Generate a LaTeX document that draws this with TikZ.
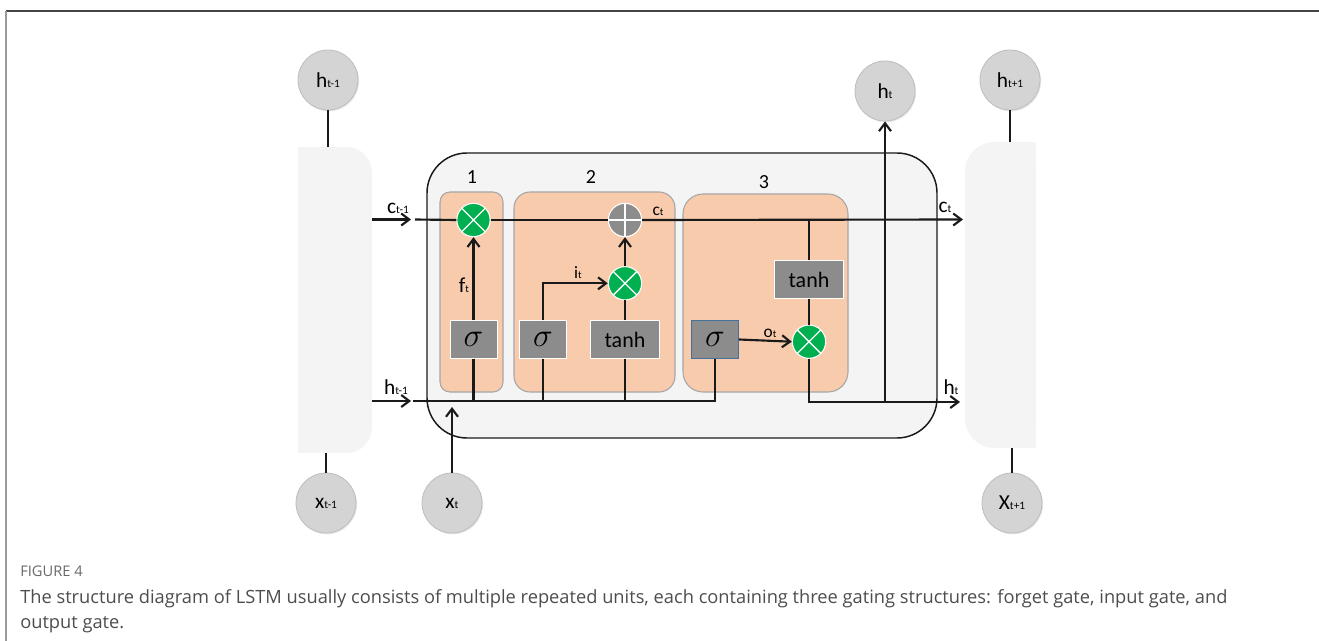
\documentclass[tikz,border=0pt]{standalone}
\usepackage{fontspec}
\setmainfont{Carlito}
\newfontfamily\capfont{Open Sans}
\usetikzlibrary{arrows.meta,calc,shadows}
\definecolor{cellfill}{HTML}{F4F4F4}
\definecolor{gatefill}{HTML}{F8CBAD}
\definecolor{gateline}{HTML}{A6A6A6}
\definecolor{boxfill}{HTML}{8C8C8C}
\definecolor{opgreen}{HTML}{00B050}
\definecolor{circfill}{HTML}{D4D4D4}
\definecolor{circline}{HTML}{BDBDBD}
\definecolor{sigblue}{HTML}{41719C}
\definecolor{captext}{HTML}{4D4D4D}
\definecolor{linecol}{HTML}{1A1A1A}
\definecolor{frametop}{HTML}{444444}
\definecolor{frameleft}{HTML}{9A9A9A}
\newcommand\sbs[2]{#1{\fontsize{8.5}{8.5}\selectfont #2}}
\newcommand\sbsm[2]{#1{\fontsize{8}{8}\selectfont #2}}
\tikzset{
  state/.style={circle, fill=circfill, draw=circline, line width=0.6pt, minimum size=45pt, inner sep=0pt, font=\fontsize{16}{16}\selectfont,
    drop shadow={opacity=0.18, shadow xshift=0.8pt, shadow yshift=-1pt}},
  mult/.style={circle, fill=opgreen, draw=white, line width=0.8pt, minimum size=25pt, inner sep=0pt,
    path picture={\draw[white,line width=1pt] (path picture bounding box.north west) -- (path picture bounding box.south east) (path picture bounding box.north east) -- (path picture bounding box.south west);}},
  addop/.style={circle, fill=boxfill, draw=white, line width=0.8pt, minimum size=25pt, inner sep=0pt,
    path picture={\draw[white,line width=1pt] (path picture bounding box.north) -- (path picture bounding box.south) (path picture bounding box.east) -- (path picture bounding box.west);}},
  actbox/.style={rectangle, fill=boxfill, draw=white, line width=0.6pt, minimum height=28.5pt, inner sep=0pt},
  sigbox/.style={actbox, minimum width=35.25pt, font=\fontsize{31}{31}\selectfont},
  tanhbox/.style={actbox, minimum width=51.5pt, font=\fontsize{16.5}{16.5}\selectfont},
  gatebox/.style={rectangle, fill=gatefill, draw=gateline, line width=0.8pt, inner sep=0pt},
  conn/.style={draw=linecol, line width=1.6pt},
  arr/.style={conn, -{Straight Barb[length=6pt,width=9pt]}},
  lbl/.style={inner sep=0pt, font=\fontsize{16}{16}\selectfont},
  slbl/.style={inner sep=0pt, font=\fontsize{13}{13}\selectfont},
  numlbl/.style={inner sep=0pt, font=\fontsize{15}{15}\selectfont},
}
\begin{document}
\begin{tikzpicture}[x=0.75pt,y=-0.75pt]
\useasboundingbox (0,0) rectangle (1319,641);
% frame
\draw[frametop, line width=0.9pt] (6,11) -- (1319,11);
\draw[frameleft, line width=1.2pt] (6,11) -- (6,641);

% neighbour blocks
\fill[cellfill, rounded corners=19pt] (298,147) rectangle (372,453);
\fill[cellfill] (298,147) rectangle (330,453);
\node[inner sep=0pt, minimum width=55.5pt, minimum height=229.5pt] (lb) at (335,300) {};
\fill[cellfill, rounded corners=22pt] (965,142) rectangle (1036,448);
\fill[cellfill] (1000,142) rectangle (1036,448);
\node[inner sep=0pt, minimum width=53.25pt, minimum height=229.5pt] (rb) at (1000.5,295) {};

% main cell
\node[draw=linecol, fill=cellfill, line width=1.1pt, rounded corners=30pt, minimum width=382.5pt, minimum height=213.75pt] (cell) at (682,295.5) {};

% gates
\node[gatebox, rounded corners=7.5pt, minimum width=47.25pt, minimum height=150pt] (g1) at (471.5,292) {};
\node[gatebox, rounded corners=12pt, minimum width=120.75pt, minimum height=150pt] (g2) at (594.5,292) {};
\node[gatebox, rounded corners=15pt, minimum width=123.75pt, minimum height=148.5pt] (g3) at (765.5,293) {};
\node[numlbl] (n1) at (472,177) {1};
\node[numlbl] (n2) at (591,177) {2};
\node[numlbl] (n3) at (764,182) {3};

% state circles
\node[state] (htm) at (328,80) {\sbs{h}{t-1}};
\node[state] (ht) at (885,91) {\sbs{h}{t}};
\node[state] (htp) at (1010,80) {\sbs{h}{t+1}};
\node[state] (xtm) at (326,503) {\sbs{x}{t-1}};
\node[state] (xt) at (452,503) {\sbs{x}{t}};
\node[state] (xtp) at (1012,503) {\sbs{X}{t+1}};

% operators
\node[mult] (m1) at (473.5,220) {};
\node[addop] (plus) at (625,220) {};
\node[mult] (m2) at (625,283.3) {};
\node[mult] (m3) at (809,341.7) {};

% activation boxes
\node[sigbox] (s1) at (473.5,339.5) {$\sigma$};
\node[sigbox] (s2) at (543,339.5) {$\sigma$};
\node[tanhbox] (t2) at (625,339.5) {tanh};
\node[tanhbox] (t3) at (809,279.5) {tanh};
\node[sigbox, draw=sigblue] (s3) at (715,339.5) {$\sigma$};

% coordinates
\coordinate (cin) at (411,219.5);
\coordinate (hin) at (411,401);
\coordinate (cstart) at (415,219.5);
\coordinate (cend) at (963,219.5);
\coordinate (hstart) at (413,401);
\coordinate (hout) at (960,402);
\coordinate (xtend) at (452,407);

% outer connectors
\draw[conn] (htm.south) -- (htm.south |- lb.north);
\draw[conn] (xtm.north) -- (xtm.north |- lb.south);
\draw[conn] (htp.south) -- (htp.south |- rb.north);
\draw[conn] (xtp.north) -- (xtp.north |- rb.south);
\draw[arr] (lb.east |- cin) -- (cin);
\draw[arr] (lb.east |- hin) -- (hin);
\draw[arr] (xt.north) -- (xtend);

% cell state line
\draw[conn] (cstart) -- (m1.west);
\draw[conn] (m1.east) -- (plus.west);
\draw[arr] (plus.east) -- (cend);
\draw[conn] (t3.north |- cend) -- (t3.north);

% hidden input line
\draw[conn] (hstart) -- (s3.south |- hstart) -- (s3.south);
\draw[conn] (s1.south) -- (s1.south |- hstart);
\draw[conn] (s2.south) -- (s2.south |- hstart);
\draw[conn] (t2.south) -- (t2.south |- hstart);

% gate internals
\draw[arr] (s1.north) -- (m1.south);
\draw[arr] (s2.north) |- (m2.west);
\draw[conn] (t2.north) -- (m2.south);
\draw[arr] (m2.north) -- (plus.south);
\draw[conn] (t3.south) -- (m3.north);
\draw[arr] (s3.east) -- (m3.west);
\draw[arr] (m3.south) |- (hout);
\draw[arr] (ht.south |- hout) -- (ht.south);

% labels
\node[lbl] (lcin) at (398,208) {\sbs{c}{t-1}};
\node[lbl] (lhin) at (396,387) {\sbs{h}{t-1}};
\node[lbl] (lcout) at (945,207) {\sbs{c}{t}};
\node[lbl] (lhout) at (951,387) {\sbs{h}{t}};
\node[slbl] (lct) at (658,211) {\sbsm{c}{t}};
\node[lbl] (lft) at (464,285) {\sbsm{f}{t}};
\node[slbl] (lit) at (578,273) {\sbsm{i}{t}};
\node[slbl] (lot) at (770,333) {\sbsm{o}{t}};

% caption
\node[anchor=base west, inner sep=0pt, text=captext!85, font=\capfont\fontsize{11}{11}\selectfont] (fig) at (20,576) {FIGURE 4};
\node[anchor=base west, inner sep=0pt, text=captext, font=\capfont\fontsize{13.7}{13.7}\selectfont] (cap1) at (20,603) {The structure diagram of LSTM usually consists of multiple repeated units, each containing three gating structures: forget gate, input gate, and};
\node[anchor=base west, inner sep=0pt, text=captext, font=\capfont\fontsize{13.7}{13.7}\selectfont] (cap2) at (20,628) {output gate.};
\end{tikzpicture}
\end{document}
